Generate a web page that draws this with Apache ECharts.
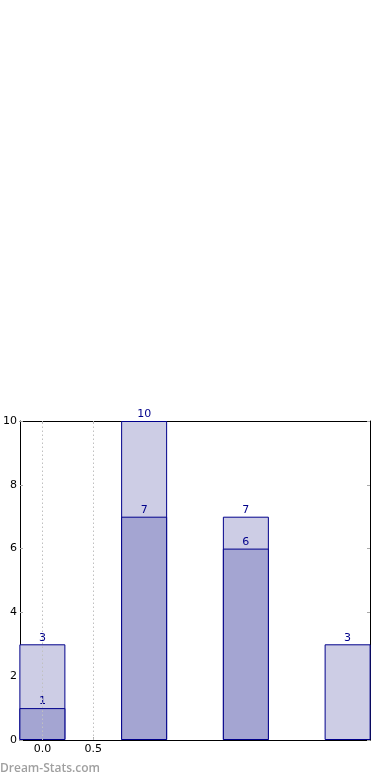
<!DOCTYPE html>
<html><head><meta charset="utf-8">
<script src="https://cdn.jsdelivr.net/npm/echarts@6/dist/echarts.min.js"></script>
<style>html,body{margin:0;padding:0;background:#fff}#c{width:390px;height:780px}</style>
</head><body><div id="c"></div>
<script>
const positions = [0, 1, 2, 3];
const totalValues = [3, 10, 7, 3];
const partValues = [1, 7, 6, 0];
const xTickValues = [0, 0.5];
const xTickLabels = ['0.0', '0.5'];
const yTicks = [0, 2, 4, 6, 8, 10];

const chart = echarts.init(document.getElementById('c'), null, {renderer: 'canvas'});
const lblColor = '#00008b';
const font = 'DejaVu Sans';
const totalData = positions.map((p, i) => [p, totalValues[i]]);
const partData = positions.map((p, i) => [p, partValues[i]]).filter(d => d[1] > 0);

chart.setOption({
  animation: false,
  grid: {left: 17, right: 20, top: 421, bottom: 40, containLabel: false},
  xAxis: [{
    type: 'value', min: -0.22, max: 3.22, position: 'bottom',
    axisLine: {show: true, onZero: false, lineStyle: {color: '#000', width: 1}},
    axisTick: {show: true, inside: true, length: 3, lineStyle: {color: '#aaa'}, customValues: xTickValues},
    axisLabel: {show: true, customValues: xTickValues, color: '#000', fontFamily: font, fontSize: 11, margin: 4,
      formatter: v => xTickLabels[xTickValues.indexOf(v)] ?? ''},
    splitLine: {show: false}
  }, {
    type: 'value', min: -0.22, max: 3.22, position: 'top',
    axisLine: {show: true, onZero: false, lineStyle: {color: '#000', width: 1}},
    axisTick: {show: true, inside: true, length: 3, lineStyle: {color: '#aaa'}, customValues: xTickValues},
    axisLabel: {show: false}, splitLine: {show: false}
  }],
  yAxis: [{
    type: 'value', min: 0, max: 10, interval: 2, position: 'left',
    axisLine: {show: true, onZero: false, lineStyle: {color: '#000', width: 1}},
    axisTick: {show: true, inside: true, length: 3, lineStyle: {color: '#aaa'}, customValues: yTicks},
    axisLabel: {color: '#000', fontFamily: font, fontSize: 11, margin: 3, customValues: yTicks},
    splitLine: {show: false}
  }, {
    type: 'value', min: 0, max: 10, interval: 2, position: 'right',
    axisLine: {show: true, onZero: false, lineStyle: {color: '#000', width: 1}},
    axisTick: {show: true, inside: true, length: 3, lineStyle: {color: '#aaa'}},
    axisLabel: {show: false}, splitLine: {show: false}
  }],
  series: [{
    type: 'bar', name: 'total', data: totalData, barWidth: 46, barGap: '-100%',
    itemStyle: {color: '#cdcde5', borderColor: '#00008b', borderWidth: 1},
    label: {show: true, position: 'top', distance: 1, color: lblColor, fontFamily: font, fontSize: 11},
    markLine: {
      silent: true, symbol: 'none', label: {show: false},
      lineStyle: {color: '#c0c0c0', type: [1.5, 2.5], width: 1},
      data: xTickValues.map(v => ({xAxis: v}))
    },
    z: 2
  }, {
    type: 'bar', name: 'part', data: partData, barWidth: 46, barGap: '-100%',
    itemStyle: {color: '#a4a5d2', borderColor: '#00008b', borderWidth: 1},
    label: {show: true, position: 'top', distance: 1, color: lblColor, fontFamily: font, fontSize: 11},
    z: 3
  }],
  graphic: [{
    type: 'text', left: 0, top: 763,
    style: {text: 'Dream-Stats.com', fill: '#a0a0a0', font: '600 12px "Open Sans"'}
  }]
});
</script></body></html>
